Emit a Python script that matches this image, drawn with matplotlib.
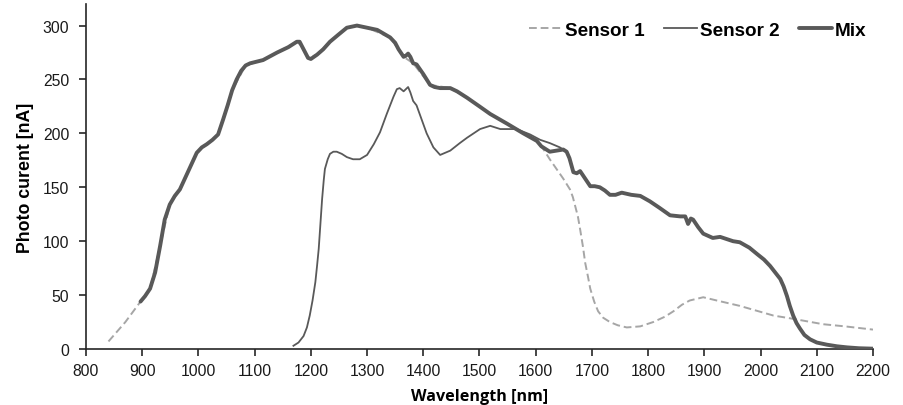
import matplotlib.pyplot as plt

# Mix curve (thick line)
mix_nm = [897, 905, 914, 923, 932, 940, 949, 958, 967, 982, 997, 1006, 1015, 1025, 1035,
          1044, 1052, 1060, 1068, 1076, 1084, 1092, 1115, 1140, 1160, 1175, 1180, 1184,
          1190, 1195, 1200, 1211, 1222, 1234, 1250, 1264, 1282, 1300, 1318, 1341, 1350,
          1356, 1365, 1369, 1373, 1377, 1382, 1388, 1400, 1412, 1420, 1430, 1448, 1460,
          1478, 1500, 1519, 1549, 1578, 1602, 1610, 1625, 1637, 1649, 1655, 1660, 1667,
          1673, 1679, 1688, 1697, 1705, 1714, 1723, 1732, 1742, 1753, 1770, 1786, 1803,
          1820, 1839, 1857, 1866, 1871, 1876, 1880, 1889, 1898, 1915, 1928, 1951, 1963,
          1980, 1994, 2006, 2017, 2026, 2035, 2041, 2047, 2052, 2058, 2064, 2070, 2078,
          2088, 2100, 2118, 2136, 2154, 2175, 2200]
mix_val = [44, 49, 56, 71, 96, 120, 134, 142, 148, 165, 182, 187, 190, 194, 199,
           213, 226, 240, 250, 258, 263, 265, 268, 275, 280, 285, 285, 281,
           275, 270, 269, 273, 278, 285, 292, 298, 300, 298, 296, 289, 284,
           278, 271, 272, 274, 271, 265, 264, 255, 245, 243, 242, 242, 239,
           233, 225, 218, 209, 200, 193, 188, 183, 184, 185, 183, 177, 164,
           163, 165, 158, 151, 151, 150, 147, 143, 143, 145, 143, 142, 137,
           131, 124, 123, 123, 116, 121, 120, 113, 107, 103, 104, 100, 99,
           94, 88, 83, 77, 71, 65, 58, 49, 40, 31, 24, 19, 13,
           9, 6, 4, 2.5, 1.5, 0.7, 0.3]

# Sensor 1 (dashed), runs under Mix between ~900 and ~1610 nm
s1_nm = [840, 870, 897, 914, 932, 949, 967, 997, 1015, 1035, 1060, 1084, 1115, 1140,
         1175, 1184, 1195, 1211, 1234, 1264, 1282, 1300, 1341, 1365, 1382, 1412, 1448,
         1478, 1519, 1549, 1578, 1602, 1614, 1625, 1637, 1649, 1661, 1666, 1670, 1675,
         1679, 1684, 1688, 1693, 1697, 1704, 1711, 1720, 1732, 1746, 1762, 1786, 1809,
         1830, 1845, 1860, 1874, 1898, 1922, 1963, 2023, 2058, 2111, 2150, 2200]
s1_val = [7, 25, 44, 56, 96, 134, 148, 182, 190, 199, 240, 263, 268, 275,
          285, 281, 270, 273, 285, 298, 300, 298, 289, 271, 265, 245, 242,
          233, 218, 209, 200, 193, 185, 176, 167, 158, 148, 141, 133, 123,
          111, 95, 80, 67, 56, 44, 35, 29, 25, 22, 20, 21, 25,
          30, 35, 41, 45, 48, 45, 40, 31, 28, 23, 21, 18]

# Sensor 2 (thin line), runs under Mix after ~1650 nm
s2_nm = [1169, 1178, 1187, 1193, 1198, 1203, 1208, 1211, 1214, 1217, 1220, 1223, 1225,
         1230, 1234, 1240, 1246, 1255, 1264, 1275, 1287, 1300, 1312, 1323, 1335, 1347,
         1353, 1358, 1365, 1369, 1373, 1377, 1382, 1388, 1397, 1406, 1418, 1430, 1448,
         1465, 1478, 1501, 1519, 1537, 1566, 1590, 1608, 1625, 1643, 1655, 1660, 1667,
         1673, 1679, 1688, 1697, 1705, 1714, 1723, 1732, 1742, 1753, 1770, 1786, 1803,
         1820, 1839, 1857, 1866, 1871, 1876, 1880, 1889, 1898, 1915, 1928, 1951, 1963,
         1980, 1994, 2006, 2017, 2026, 2035, 2041, 2047, 2052, 2058, 2064, 2070, 2078,
         2088, 2100, 2118, 2136, 2154, 2175, 2200]
s2_val = [3, 6, 12, 20, 31, 45, 62, 77, 93, 116, 139, 157, 167,
          176, 181, 183, 183, 181, 178, 176, 176, 180, 190, 201, 218, 234,
          241, 242, 239, 241, 243, 238, 230, 226, 213, 200, 187, 180, 184,
          191, 196, 204, 207, 204, 204, 199, 194, 191, 187, 183, 177, 164,
          163, 165, 158, 151, 151, 150, 147, 143, 143, 145, 143, 142, 137,
          131, 124, 123, 123, 116, 121, 120, 113, 107, 103, 104, 100, 99,
          94, 88, 83, 77, 71, 65, 58, 49, 40, 31, 24, 19, 13,
          9, 6, 4, 2.5, 1.5, 0.7, 0.3]

x_ticks = list(range(800, 2201, 100))
y_ticks = list(range(0, 301, 50))

fig = plt.figure(figsize=(9.04, 4.06), dpi=100)
ax = fig.add_axes([86 / 904, 56 / 406, 787 / 904, 345 / 406])

ax.plot(s1_nm, s1_val, color='#a6a6a6', linewidth=1.4, dashes=(4, 2), label='Sensor 1', zorder=2)
ax.plot(s2_nm, s2_val, color='#595959', linewidth=1.3, label='Sensor 2', zorder=3,
        solid_joinstyle='round')
ax.plot(mix_nm, mix_val, color='#595959', linewidth=2.8, label='Mix', zorder=4,
        solid_joinstyle='round', solid_capstyle='round')

ax.set_xlim(800, 2200)
ax.set_ylim(0, 320)
ax.set_xticks(x_ticks)
ax.set_yticks(y_ticks)
ax.spines['top'].set_visible(False)
ax.spines['right'].set_visible(False)
for s in ['left', 'bottom']:
    ax.spines[s].set_linewidth(1.2)
    ax.spines[s].set_color('#262626')
ax.tick_params(axis='both', length=5, width=1.2, color='#262626', labelsize=11.3,
               labelcolor='#1a1a1a')
ax.tick_params(axis='y', pad=7)
ax.tick_params(axis='x', pad=5)
for lbl in ax.get_xticklabels() + ax.get_yticklabels():
    lbl.set_family('Liberation Sans')

ax.set_ylabel('Photo curent [nA]', fontsize=12.8, fontweight='bold', family='Liberation Sans',
              labelpad=6)
ax.set_xlabel('Wavelength [nm]', fontsize=11.6, fontweight='bold', family='Open Sans',
              labelpad=7)

ax.legend(loc='center right', bbox_to_anchor=(866 / 904, 1 - 31 / 406),
          bbox_transform=fig.transFigure, borderaxespad=0, borderpad=0,
          ncol=3, frameon=False, handlelength=1.75, handletextpad=0.12, columnspacing=1.05,
          prop={'family': 'Liberation Sans', 'weight': 'bold', 'size': 13.6})

fig.savefig('out.png', dpi=100)
